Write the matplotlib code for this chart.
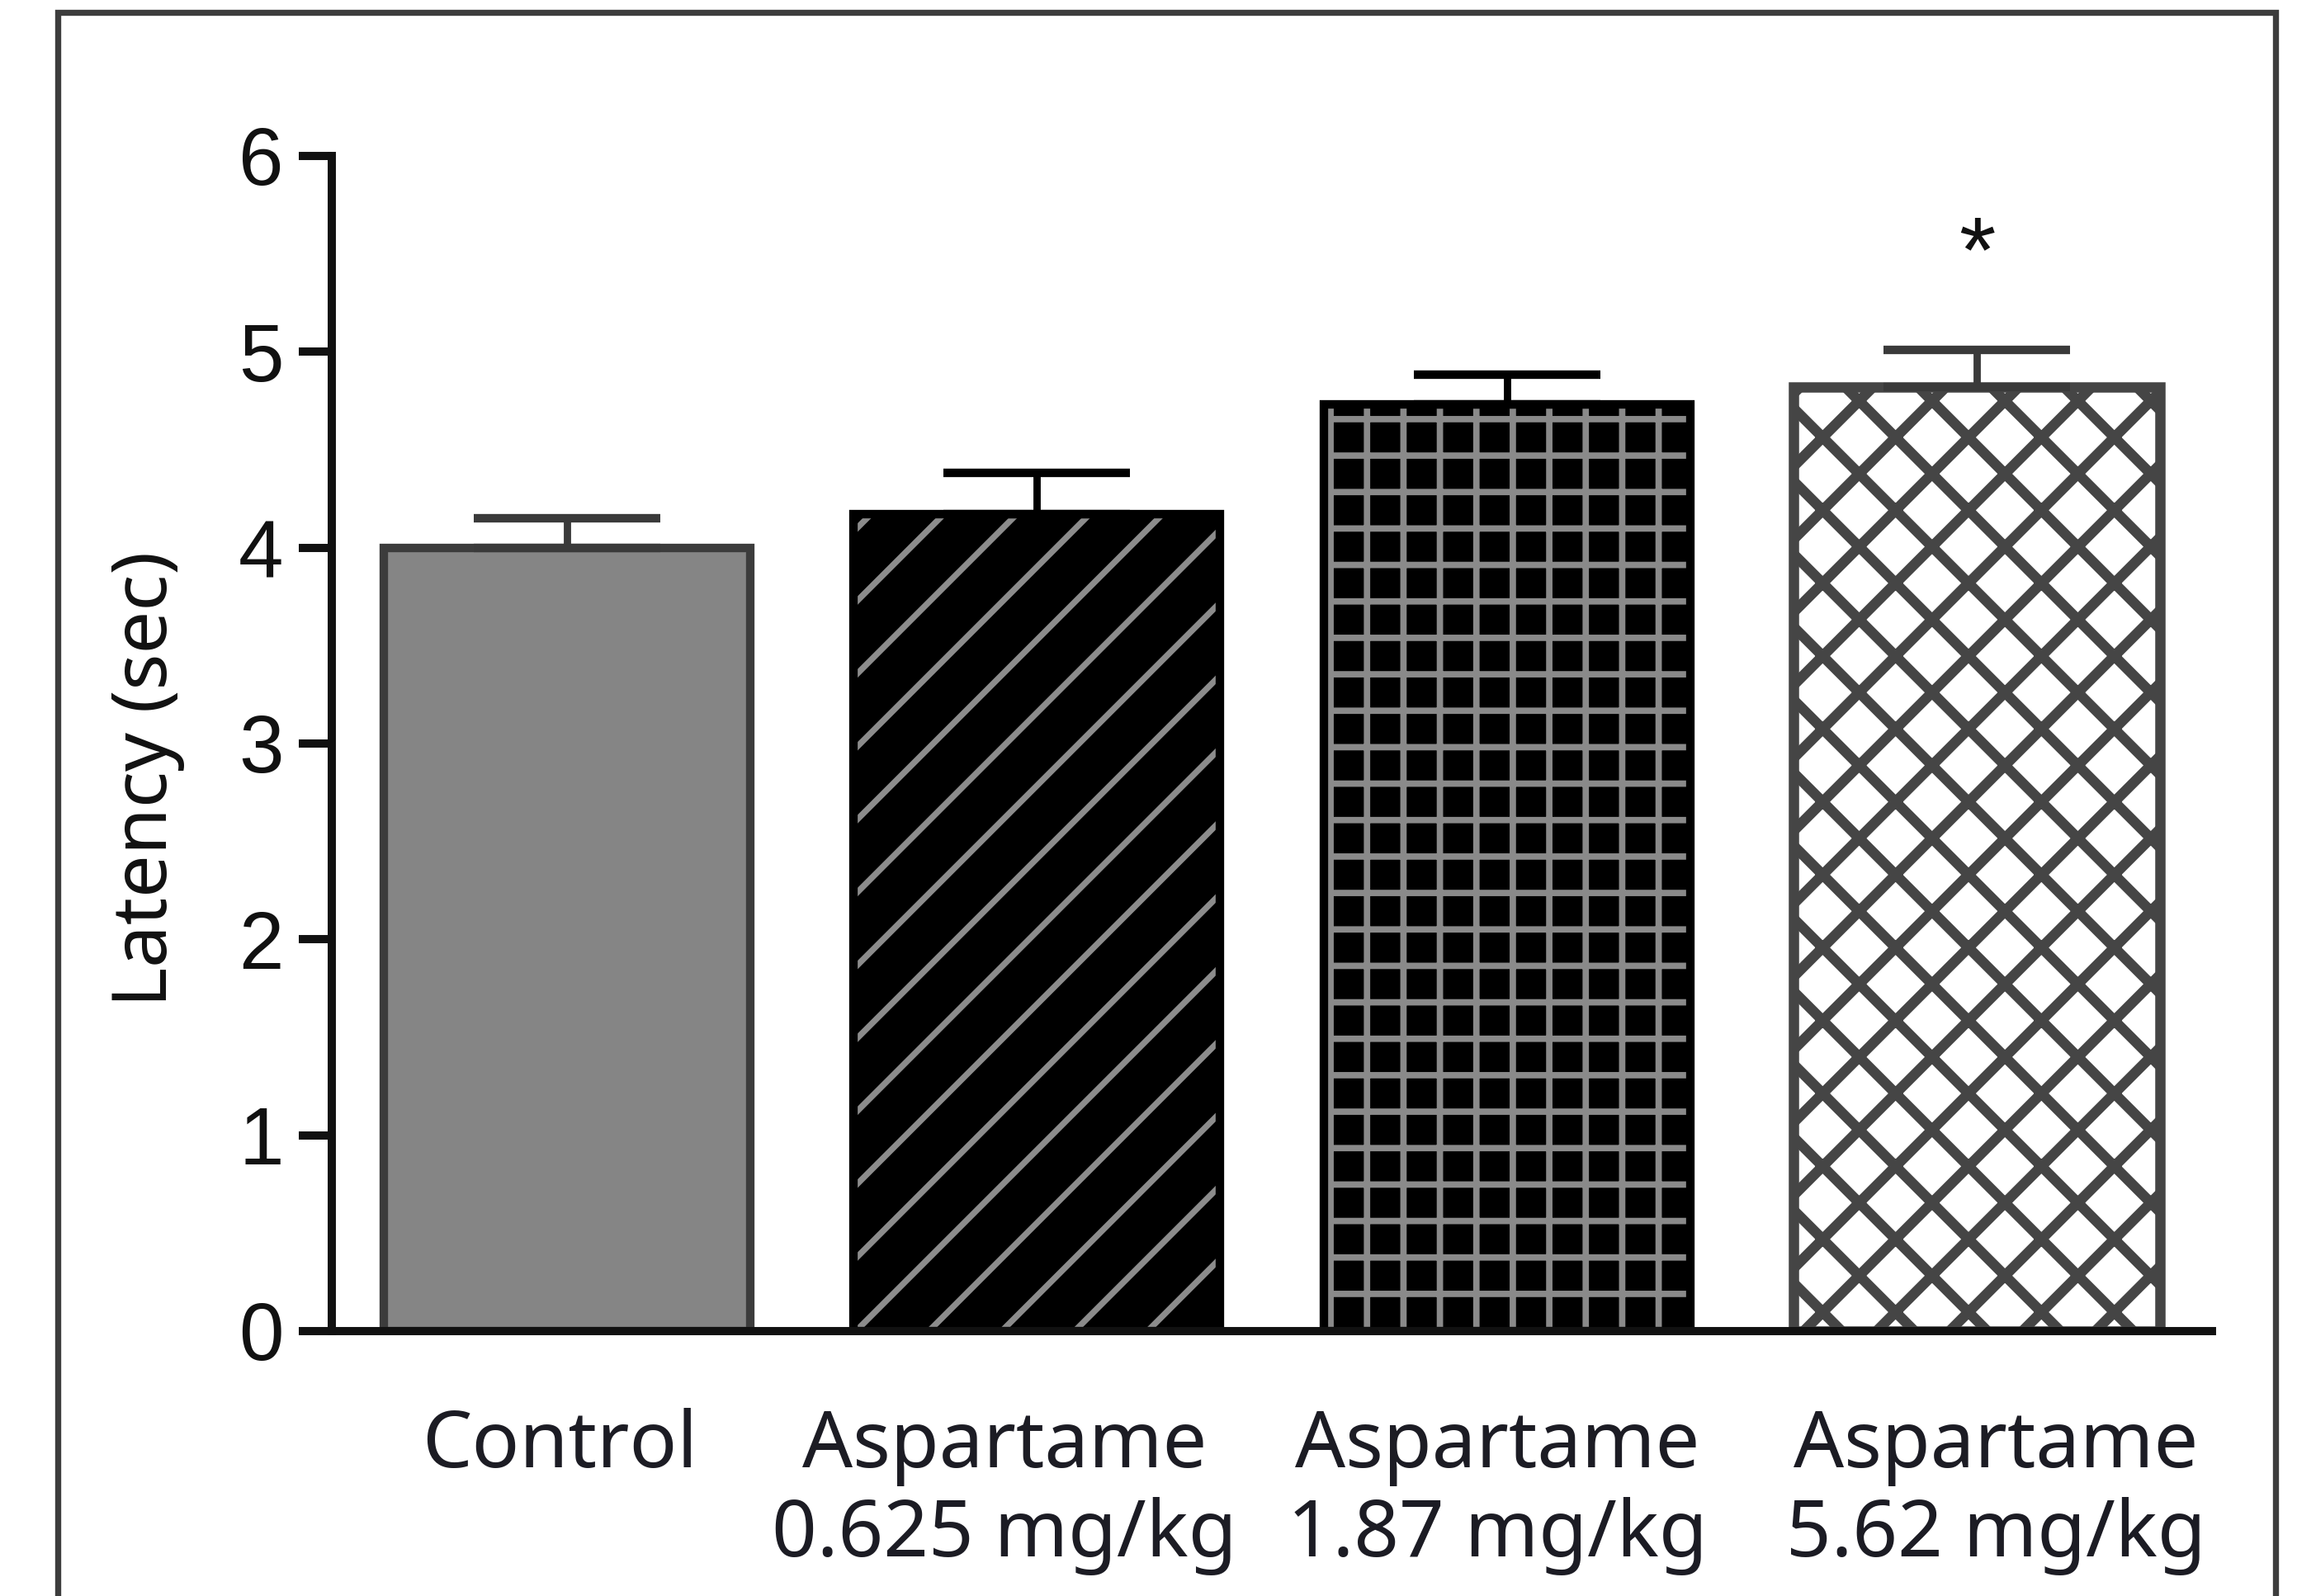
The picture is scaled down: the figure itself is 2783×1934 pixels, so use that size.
import numpy as np
import matplotlib
matplotlib.use('Agg')
import matplotlib.pyplot as plt
from matplotlib.patches import Rectangle
from matplotlib.transforms import ScaledTranslation

# data
groups = ['Control', 'Aspartame\n0.625 mg/kg', 'Aspartame\n1.87 mg/kg', 'Aspartame\n5.62 mg/kg']
latency = [4.00, 4.17, 4.73, 4.82]
sem = [0.15, 0.21, 0.155, 0.19]
star_group = 3
star_y = 5.56
yticks = [0, 1, 2, 3, 4, 5, 6]

# look of each bar
face = ['#858585', 'black', 'black', 'white']
edge = ['#3c3c3c', 'black', 'black', '#454545']
edge_lw = [1.4, 1.4, 1.4, 1.7]
hatch = [None, '//', '++', 'xx']
hatch_col = [None, '#8c8c8c', '#8a8a8a', '#454545']
hatch_lw = [None, 1.0, 1.05, 1.7]
err_col = ['#3a3a3a', 'black', 'black', '#3a3a3a']
label_shift = [-1.2, -5.3, -1.5, 3.1]   # points, labels sit a bit off centre

DPI = 530
fig = plt.figure(figsize=(2783 / DPI, 1934 / DPI), dpi=DPI)
ax = fig.add_axes([0.1444, 0.1660, 0.8186, 0.7363])

x = np.arange(len(groups))
w = 0.78

# fill
ax.bar(x, latency, w, color=face, linewidth=0, zorder=2)
# hatch layer (hatch colour follows edgecolor, so draw it on its own)
for i in range(len(groups)):
    if hatch[i] is None:
        continue
    with plt.rc_context({'hatch.linewidth': hatch_lw[i]}):
        b = ax.bar(x[i], latency[i], w, facecolor='none', edgecolor=hatch_col[i],
                   linewidth=0, hatch=hatch[i], zorder=2.1)
        for p in b:
            if hasattr(p, 'set_hatch_linewidth'):
                p.set_hatch_linewidth(hatch_lw[i])
# outlines
for i in range(len(groups)):
    ax.bar(x[i], latency[i], w, facecolor='none', edgecolor=edge[i],
           linewidth=edge_lw[i], zorder=2.2)

# upward error bars
for i in range(len(groups)):
    ax.errorbar(x[i], latency[i], yerr=[[0], [sem[i]]], fmt='none',
                ecolor=err_col[i], elinewidth=1.2, capsize=15.4, capthick=1.4,
                zorder=3)

ax.text(x[star_group], star_y - 0.20, '*', ha='center', va='baseline',
        fontsize=15.5, family='Liberation Sans', color='#111111')

ax.set_xlim(-0.5, 3.5)
ax.set_ylim(0, 6)
ax.set_yticks(yticks)
ax.set_xticks(x)
ax.tick_params(axis='x', length=0, labelbottom=False)

# group labels under the axis
for xi, name, dx in zip(x, groups, label_shift):
    tr = ax.get_xaxis_transform() + ScaledTranslation(dx / 72, -12.6 / 72, fig.dpi_scale_trans)
    ax.text(xi, 0, name, transform=tr, ha='center', va='top', multialignment='center',
            family='Noto Sans', fontsize=13, color='#1c1c24', linespacing=1.18)

for lab in ax.get_yticklabels():
    lab.set_family('Liberation Sans')
    lab.set_fontsize(13.3)
ax.tick_params(axis='y', length=5.4, width=1.35, pad=2.5, colors='#111111')
for s in ['top', 'right']:
    ax.spines[s].set_visible(False)
for s in ['left', 'bottom']:
    ax.spines[s].set_linewidth(1.35)
    ax.spines[s].set_color('#111111')

ax.set_ylabel('Latency (sec)', family='Noto Sans', fontsize=12.5, color='#111111')
ax.yaxis.set_label_coords(-0.078, 0.47)

# outer frame of the figure panel
fig.patches.append(Rectangle((70 / 2783, -0.1), (2757 - 70) / 2783, 1.1 - 15 / 1934,
                             transform=fig.transFigure, facecolor='none',
                             edgecolor='#3d3d3d', linewidth=1.0, zorder=0))

fig.savefig('out.png', dpi=DPI, facecolor='white')
